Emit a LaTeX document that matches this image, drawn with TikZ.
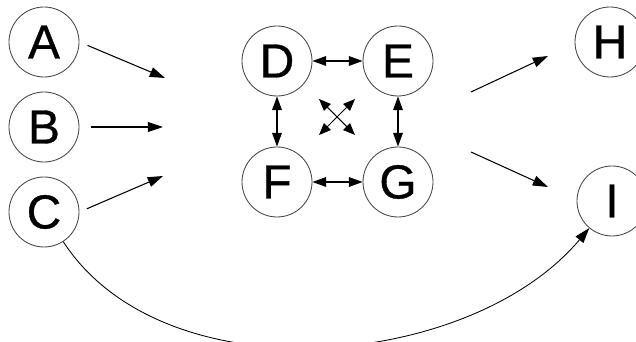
\documentclass[tikz,border=0pt]{standalone}
\usepackage{fontspec}
\setmainfont{Liberation Sans}
\usetikzlibrary{arrows.meta,calc}
\definecolor{ring}{RGB}{70,70,70}

\begin{document}
\begin{tikzpicture}[
        vertex/.style={circle, draw=ring, line width=0.6pt, minimum size=1.75cm, inner sep=0pt,
            font=\fontsize{34}{34}\selectfont\addfontfeature{FakeBold=0.7}},
        link/.style={line width=0.75pt, -{Triangle[length=0.38cm,width=0.25cm]}},
        pair/.style={line width=0.75pt, {Triangle[length=0.34cm,width=0.24cm]}-{Triangle[length=0.34cm,width=0.24cm]}},
        cross/.style={line width=0.75pt, {Triangle[length=0.3cm,width=0.24cm]}-{Triangle[length=0.3cm,width=0.24cm]}}
    ]
        \useasboundingbox (0,0) rectangle (15.9,8.55);

        % inputs
        \node[vertex] (A) at (1.1,7.5) {A};
        \node[vertex] (B) at (1.1,5.375) {B};
        \node[vertex] (C) at (1.1,3.25) {C};

        % inner square
        \node[vertex] (D) at (6.925,7.025) {D};
        \node[vertex] (E) at (9.95,7.025) {E};
        \node[vertex] (F) at (6.925,4.0) {F};
        \node[vertex] (G) at (9.95,4.0) {G};

        % outputs
        \node[vertex] (H) at (15.25,7.5) {H};
        \node[vertex] (I) at (15.3,3.525) {I};

        \coordinate (inA) at (4.125,6.6);
        \coordinate (inB) at (4.075,5.375);
        \coordinate (inC) at (4.075,4.15);
        \coordinate (outH) at (11.775,6.25);
        \coordinate (toH) at (13.7,7.15);
        \coordinate (outI) at (11.775,4.75);
        \coordinate (toI) at (13.7,3.875);
        \coordinate (mid) at (8.425,5.625);

        \draw[link, shorten <=0.22cm] (A.east) -- (inA);
        \draw[link, shorten <=0.3cm] (B.east) -- (inB);
        \draw[link, shorten <=0.2cm] (C.east) -- (inC);

        \draw[pair] (D) -- (E);
        \draw[pair] (F) -- (G);
        \draw[pair] (D) -- (F);
        \draw[pair] (E) -- (G);
        \draw[cross] ($(mid)+(-0.45,0.45)$) -- ($(mid)+(0.45,-0.45)$);
        \draw[cross] ($(mid)+(-0.45,-0.45)$) -- ($(mid)+(0.45,0.45)$);

        \draw[link] (outH) -- (toH);
        \draw[link] (outI) -- (toI);

        \draw[link, line width=0.6pt] (C) to[out=-57, in=-130, looseness=0.9] (I);
    \end{tikzpicture}
\end{document}
